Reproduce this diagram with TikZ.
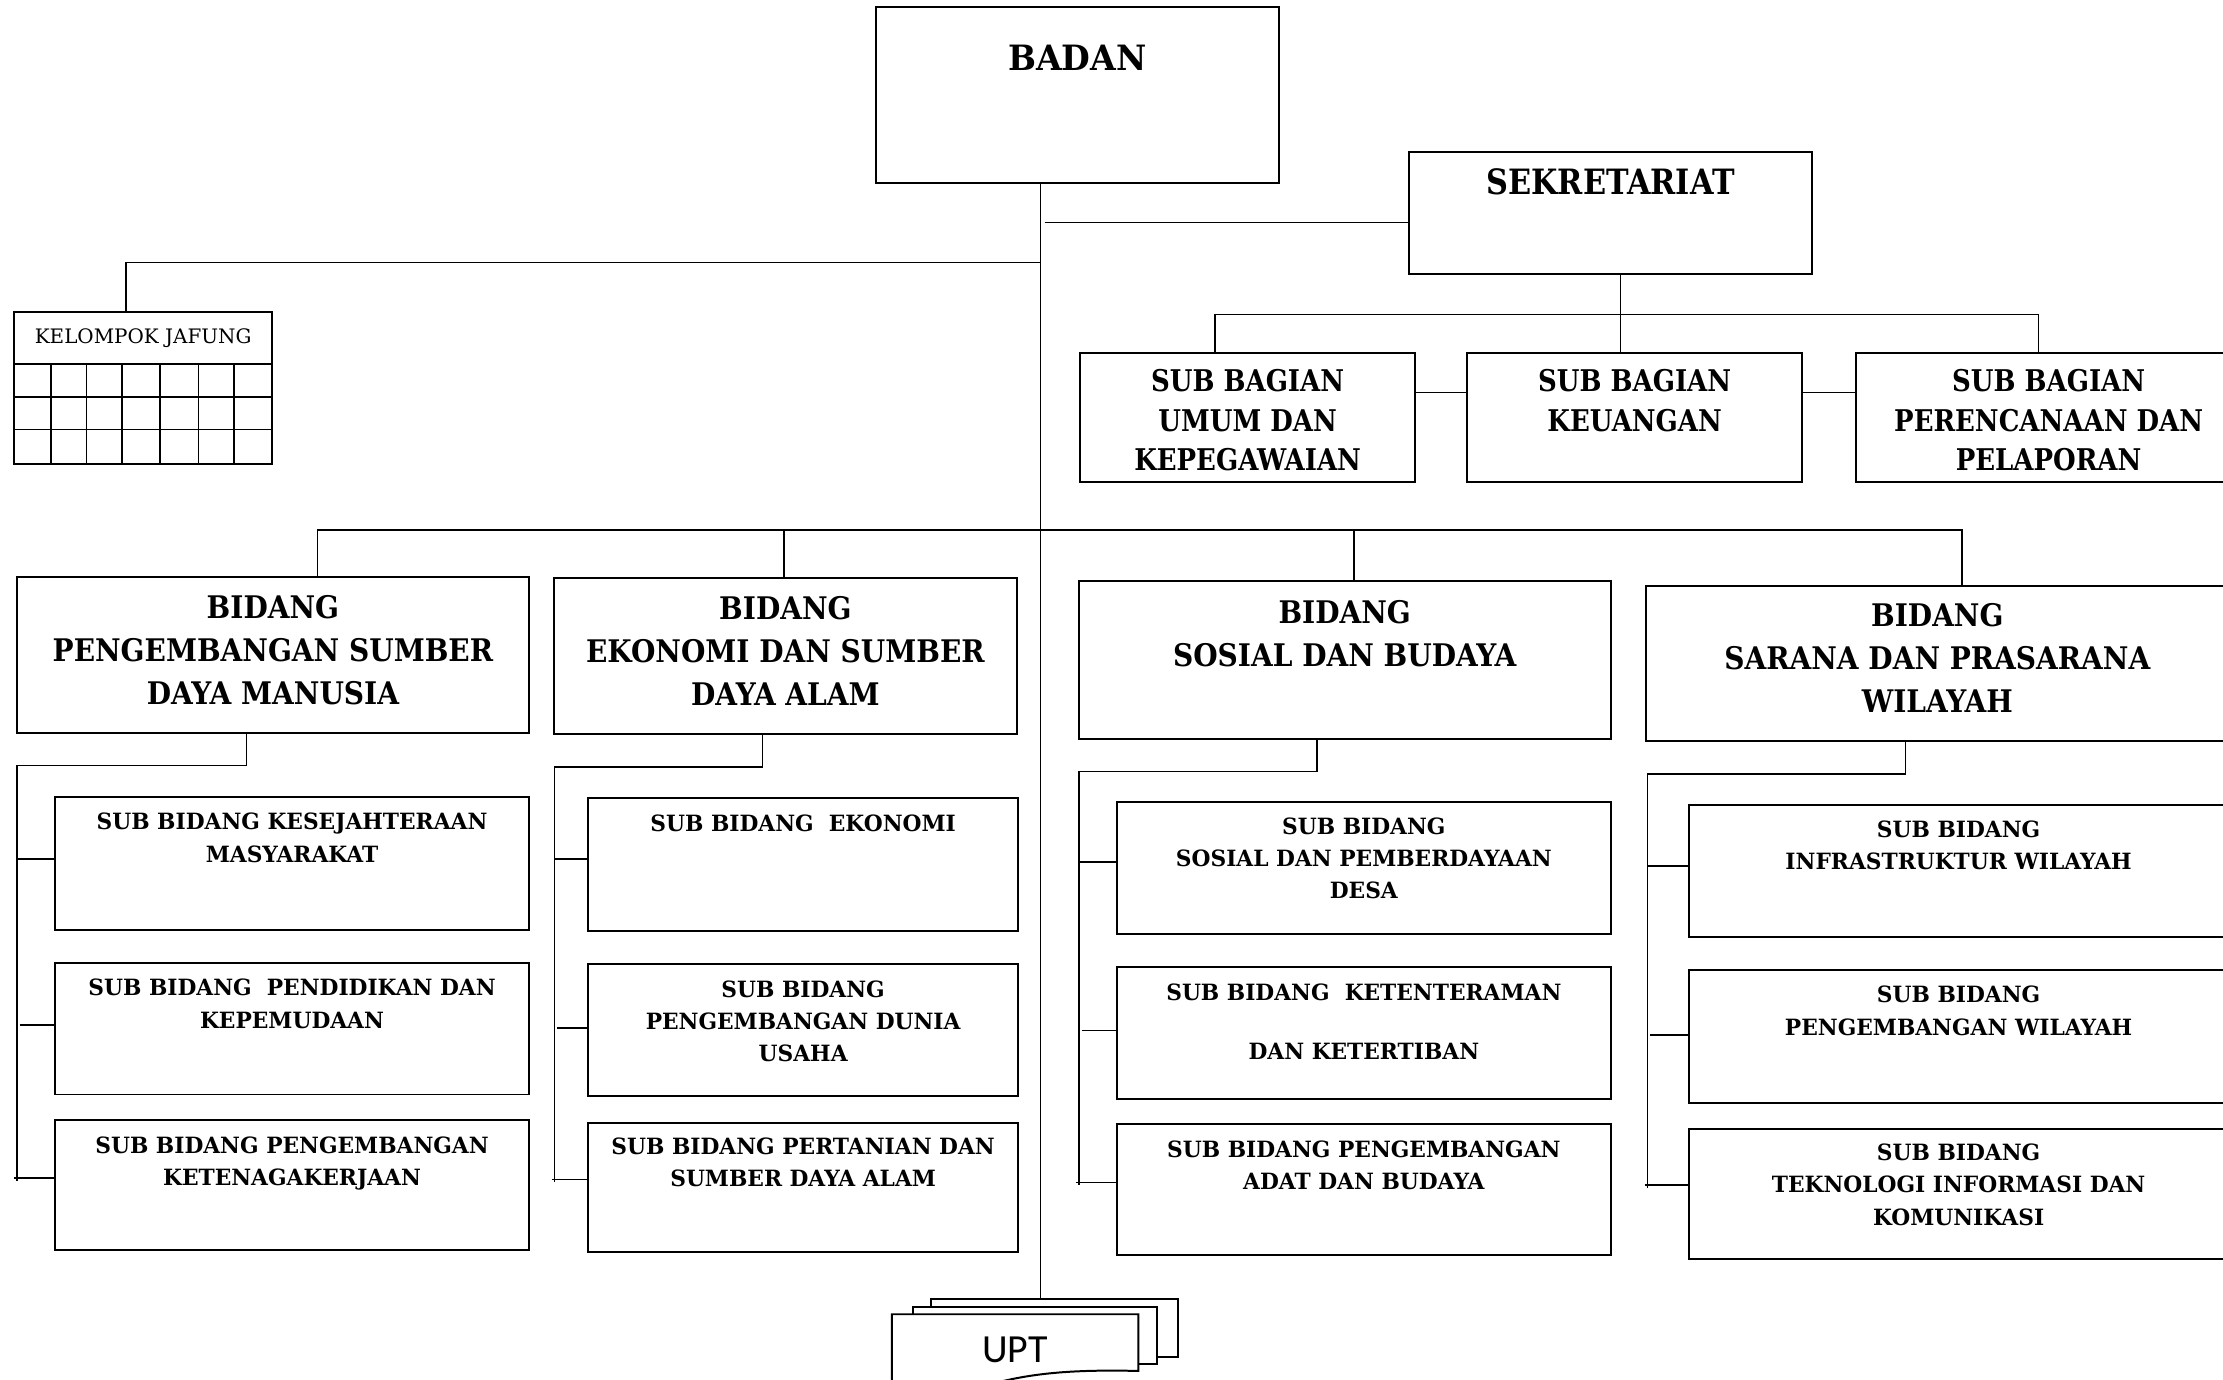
\documentclass[tikz,border=0pt]{standalone}
\usepackage{fontspec}
\setmainfont{DejaVu Serif}
\newfontfamily\condfont[FakeStretch=0.87]{DejaVu Serif}
\newfontfamily\badanfont[FakeStretch=0.95]{DejaVu Serif}
\newfontfamily\bidfont[FakeStretch=0.9]{DejaVu Serif}
\newfontfamily\subfont[FakeStretch=0.97]{DejaVu Serif}
\newfontfamily\uptfont{Carlito}
\usetikzlibrary{fit,calc}
\tikzset{
 box/.style={draw, line width=0.8pt, inner sep=0pt, fill=white},
 conn/.style={line width=0.6pt},
 tsub/.style={anchor=north, inner sep=0pt, align=center, font=\subfont\bfseries\fontsize{9}{13}\selectfont},
 tbid/.style={anchor=north, inner sep=0pt, align=center, font=\bidfont\bfseries\fontsize{12.5}{17.3}\selectfont},
 tbag/.style={anchor=north, inner sep=0pt, align=center, font=\condfont\bfseries\fontsize{12}{15.9}\selectfont},
 ttop/.style={anchor=north, inner sep=0pt, align=center, font=\condfont\bfseries\fontsize{14}{17}\selectfont},
 tbadan/.style={anchor=north, inner sep=0pt, align=center, font=\badanfont\bfseries\fontsize{14}{17}\selectfont},
}
\newcommand\mybox[5]{\node[box, fit={(#2,#3) (#4,#5)}] (#1) {};}
\newcommand\btext[4]{\node[#1] (#2t) at ($(#2.north)+(0,#3)$) {#4};}
\newcommand\colconn[8]{%
 \draw[conn] (#1.south -| #2,0) -- (#2,#3) -- (#4,#3) -- (#4,#7+2);
 \draw[conn] (#4,#5) -- (#8a.west |- 0,#5);
 \draw[conn] (#4+2,#6) -- (#8b.west |- 0,#6);
 \draw[conn] (#4-2,#7) -- (#8c.west |- 0,#7);
}
\begin{document}
\begin{tikzpicture}[x=0.02cm,y=-0.02cm]
\useasboundingbox (0,0) rectangle (1568,973);
\clip (0,0) rectangle (1568,973);

% ---- top
\mybox{badan}{618}{5}{902}{129}
\btext{tbadan}{badan}{27}{BADAN}
\mybox{sek}{994}{107}{1278}{193}
\btext{ttop}{sek}{12}{SEKRETARIAT}

% ---- kelompok jafung
\mybox{jafh}{10}{220}{192}{257}
\mybox{jafg}{10}{257}{192}{327}
\node[font=\fontsize{8}{10}\selectfont, inner sep=0pt] (jaft) at (jafh.center) {KELOMPOK JAFUNG};
\foreach \gx in {36,61,86,113,140,165} \draw[conn] (\gx,257) -- (\gx,327);
\foreach \gy in {280,303} \draw[conn] (10,\gy) -- (192,\gy);

% ---- sub bagian
\mybox{sba1}{762}{249}{998}{340}
\mybox{sba2}{1035}{249}{1271}{340}
\mybox{sba3}{1309}{249}{1581}{340}
\btext{tbag}{sba1}{12}{SUB BAGIAN\\UMUM DAN\\KEPEGAWAIAN}
\btext{tbag}{sba2}{12}{SUB BAGIAN\\KEUANGAN}
\btext{tbag}{sba3}{12}{SUB BAGIAN\\PERENCANAAN DAN\\PELAPORAN}

% ---- bidang
\mybox{b1}{12}{407}{373}{517}
\mybox{b2}{391}{408}{717}{518}
\mybox{b3}{761}{410}{1136}{521}
\mybox{b4}{1161}{413}{1572}{523}
\btext{tbid}{b1}{13}{BIDANG\\PENGEMBANGAN SUMBER\\DAYA MANUSIA}
\btext{tbid}{b2}{13}{BIDANG\\EKONOMI DAN SUMBER\\DAYA ALAM}
\btext{tbid}{b3}{14}{BIDANG\\SOSIAL DAN BUDAYA}
\btext{tbid}{b4}{13}{BIDANG\\SARANA DAN PRASARANA\\WILAYAH}

% ---- sub bidang
\mybox{s1a}{39}{562}{373}{656}
\mybox{s1b}{39}{679}{373}{772}
\mybox{s1c}{39}{790}{373}{882}
\mybox{s2a}{415}{563}{718}{657}
\mybox{s2b}{415}{680}{718}{773}
\mybox{s2c}{415}{792}{718}{883}
\mybox{s3a}{788}{566}{1136}{659}
\mybox{s3b}{788}{682}{1136}{775}
\mybox{s3c}{788}{793}{1136}{885}
\mybox{s4a}{1191}{568}{1572}{661}
\mybox{s4b}{1191}{684}{1572}{778}
\mybox{s4c}{1191}{796}{1572}{888}
\btext{tsub}{s1a}{12}{SUB BIDANG KESEJAHTERAAN\\MASYARAKAT}
\btext{tsub}{s1b}{12}{SUB BIDANG\ \ PENDIDIKAN DAN\\KEPEMUDAAN}
\btext{tsub}{s1c}{12}{SUB BIDANG PENGEMBANGAN\\KETENAGAKERJAAN}
\btext{tsub}{s2a}{12}{SUB BIDANG\ \ EKONOMI}
\btext{tsub}{s2b}{12}{SUB BIDANG\\PENGEMBANGAN DUNIA\\USAHA}
\btext{tsub}{s2c}{11}{SUB BIDANG PERTANIAN DAN\\SUMBER DAYA ALAM}
\btext{tsub}{s3a}{11}{SUB BIDANG\\SOSIAL DAN PEMBERDAYAAN\\DESA}
\btext{tsub}{s3b}{12}{SUB BIDANG\ \ KETENTERAMAN\\[10.8pt]DAN KETERTIBAN}
\btext{tsub}{s3c}{12}{SUB BIDANG PENGEMBANGAN\\ADAT DAN BUDAYA}
\btext{tsub}{s4a}{11}{SUB BIDANG\\INFRASTRUKTUR WILAYAH}
\btext{tsub}{s4b}{12}{SUB BIDANG\\PENGEMBANGAN WILAYAH}
\btext{tsub}{s4c}{11}{SUB BIDANG\\TEKNOLOGI INFORMASI DAN\\KOMUNIKASI}

% ---- UPT
\node[box, fit={(657,916) (831,957)}] (upt3) {};
\node[box, fit={(644,922) (816,962)}] (upt2) {};
\draw[line width=0.8pt, fill=white] (629,995) -- (629,927) -- (803,927) -- (803,967)
  .. controls (760,966) and (730,968) .. (700,976)
  .. controls (680,981) and (650,987) .. (629,987) -- cycle;
\node[font=\uptfont\fontsize{16}{18}\selectfont, inner sep=0pt] (upt) at (716,952) {UPT};

% ---- connectors
\coordinate (trunk) at (734,0);
\draw[conn] (badan.south -| trunk) -- (upt3.north -| trunk);
\coordinate (jsek) at (737,157);
\draw[conn] (jsek) -- (jsek -| sek.west);
\coordinate (jjaf) at (734,185);
\coordinate (jafx) at (89,0);
\draw[conn] (jjaf) -| (jafx |- jafh.north);

\coordinate (sbus) at (0,222);
\coordinate (sx1) at (857,0);
\coordinate (sx2) at (1143,0);
\coordinate (sx3) at (1438,0);
\draw[conn] (sek.south -| sx2) -- (sx2 |- sba2.north);
\draw[conn] (sx1 |- sba1.north) |- (sx3 |- sbus) -- (sx3 |- sba3.north);
\coordinate (hy) at (0,277);
\draw[conn] (sba1.east |- hy) -- (sba2.west |- hy);
\draw[conn] (sba2.east |- hy) -- (sba3.west |- hy);

\coordinate (bus) at (0,374);
\coordinate (bx1) at (224,0);
\coordinate (bx2) at (553,0);
\coordinate (bx3) at (955,0);
\coordinate (bx4) at (1384,0);
\draw[conn] (bx1 |- b1.north) |- (bx4 |- bus) -- (bx4 |- b4.north);
\draw[conn] (bx2 |- bus) -- (bx2 |- b2.north);
\draw[conn] (bx3 |- bus) -- (bx3 |- b3.north);

\colconn{b1}{174}{540}{12}{606}{723}{831}{s1}
\colconn{b2}{538}{541}{391}{606}{725}{832}{s2}
\colconn{b3}{929}{544}{761}{608}{727}{834}{s3}
\colconn{b4}{1344}{546}{1162}{611}{730}{836}{s4}
\end{tikzpicture}
\end{document}
